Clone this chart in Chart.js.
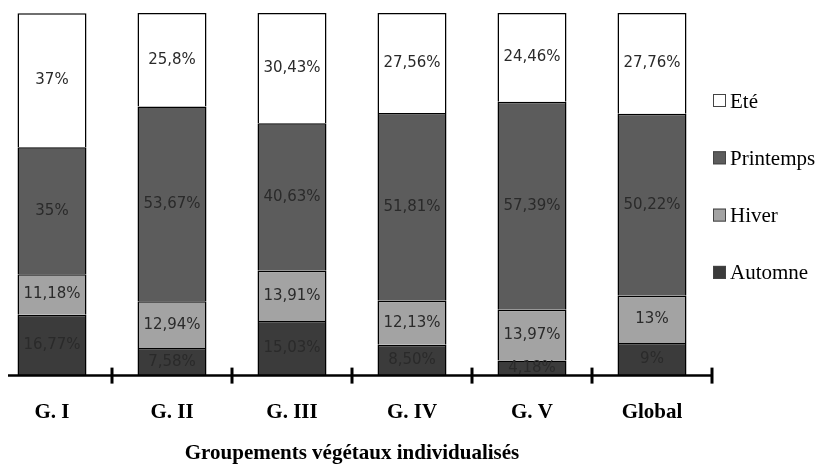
<!DOCTYPE html>
<html>
<head>
<meta charset="utf-8">
<script src="https://cdn.jsdelivr.net/npm/chart.js@4"></script>
<style>
  html, body { margin: 0; padding: 0; background: #fff; overflow: hidden; }
  #wrap { width: 839px; height: 464px; margin-left: -8px; }
</style>
</head>
<body>
<div id="wrap"><canvas id="chart"></canvas></div>
<script>
const groupes = ['G. I', 'G. II', 'G. III', 'G. IV', 'G. V', 'Global'];
const automne = [16.77, 7.58, 15.03, 8.50, 4.18, 9];
const hiver = [11.18, 12.94, 13.91, 12.13, 13.97, 13];
const printemps = [35, 53.67, 40.63, 51.81, 57.39, 50.22];
const ete = [37, 25.8, 30.43, 27.56, 24.46, 27.76];
const etiquettes = {
    Automne: ['16,77%', '7,58%', '15,03%', '8,50%', '4,18%', '9%'],
    Hiver: ['11,18%', '12,94%', '13,91%', '12,13%', '13,97%', '13%'],
    Printemps: ['35%', '53,67%', '40,63%', '51,81%', '57,39%', '50,22%'],
    'Eté': ['37%', '25,8%', '30,43%', '27,56%', '24,46%', '27,76%']
};

// text in the middle of each segment
const valueLabels = {
    id: 'valueLabels',
    afterDatasetsDraw(chart) {
        const ctx = chart.ctx;
        ctx.save();
        ctx.font = '15px "DejaVu Sans"';
        ctx.fillStyle = '#2a2a2a';
        ctx.textAlign = 'center';
        ctx.textBaseline = 'middle';
        chart.data.datasets.forEach((ds, i) => {
            chart.getDatasetMeta(i).data.forEach((bar, j) => {
                const y = (bar.y + bar.base) / 2;
                ctx.fillText(etiquettes[ds.label][j], bar.x, y);
            });
        });
        ctx.restore();
    }
};

// axis line with ticks crossing it between groups
const axisTicks = {
    id: 'axisTicks',
    afterDraw(chart) {
        const xs = chart.scales.x;
        const ctx = chart.ctx;
        const y = chart.chartArea.bottom;
        ctx.save();
        ctx.strokeStyle = '#000';
        ctx.lineWidth = 2.5;
        ctx.beginPath();
        ctx.moveTo(16, y);
        ctx.lineTo(xs.right, y);
        ctx.stroke();
        ctx.lineWidth = 3;
        const marks = [];
        for (let i = 1; i < groupes.length; i++) {
            marks.push((xs.getPixelForValue(i - 1) + xs.getPixelForValue(i)) / 2);
        }
        marks.push(xs.right);
        marks.forEach(x => {
            ctx.beginPath();
            ctx.moveTo(x, y - 8);
            ctx.lineTo(x, y + 8);
            ctx.stroke();
        });
        ctx.restore();
    }
};

// legend on the right, top item = last dataset
const sideLegend = {
    id: 'sideLegend',
    afterDraw(chart) {
        const ctx = chart.ctx;
        const x = chart.chartArea.right + 1;
        const ds = chart.data.datasets.slice().reverse();
        ctx.save();
        ctx.font = '21px "Liberation Serif"';
        ctx.textBaseline = 'middle';
        ds.forEach((d, i) => {
            const y = 101 + i * 57.3;
            ctx.fillStyle = d.backgroundColor;
            ctx.fillRect(x, y - 7, 13, 13);
            ctx.strokeStyle = '#444';
            ctx.lineWidth = 1;
            ctx.strokeRect(x + 0.5, y - 6.5, 12, 12);
            ctx.fillStyle = '#000';
            ctx.fillText(d.label, x + 17, y + 1);
        });
        ctx.restore();
    }
};

new Chart(document.getElementById('chart'), {
    type: 'bar',
    data: {
        labels: groupes,
        datasets: [
            { label: 'Automne', data: automne, backgroundColor: '#3b3b3b' },
            { label: 'Hiver', data: hiver, backgroundColor: '#a3a3a3' },
            { label: 'Printemps', data: printemps, backgroundColor: '#5c5c5c' },
            { label: 'Eté', data: ete, backgroundColor: '#ffffff' }
        ]
    },
    options: {
        responsive: true, maintainAspectRatio: false, animation: false,
        datasets: { bar: { borderColor: '#000', borderWidth: 1.5, barPercentage: 0.575, categoryPercentage: 1 } },
        layout: { padding: { left: 0, top: 13, right: 119, bottom: 0 } },
        plugins: {
            tooltip: { enabled: false },
            legend: { display: false }
        },
        scales: {
            x: {
                stacked: true,
                grid: { display: false },
                border: { display: false },
                ticks: { color: '#000', padding: 16, font: { family: '"Liberation Serif"', size: 21, weight: 'bold' } },
                title: {
                    display: true, text: 'Groupements végétaux individualisés', color: '#000',
                    padding: { top: 0, bottom: -2 },
                    font: { family: '"Liberation Serif"', size: 21, weight: 'bold' }
                }
            },
            y: { stacked: true, display: false, min: 0, max: 100 }
        }
    },
    plugins: [valueLabels, axisTicks, sideLegend]
});
</script>
</body>
</html>
